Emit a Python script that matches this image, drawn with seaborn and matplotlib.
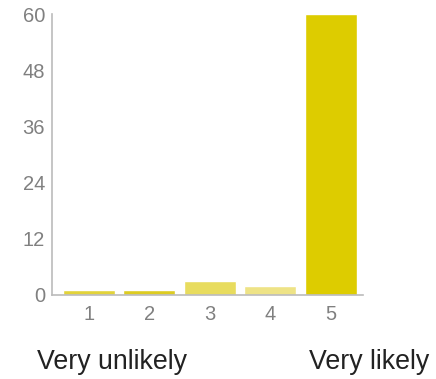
import matplotlib
matplotlib.use('Agg')
import matplotlib.pyplot as plt
import seaborn as sns
import pandas as pd

# 데이터
categories = ['1', '2', '3', '4', '5']
counts = [1, 1, 3, 2, 60]
bar_colors = ['#E2D33A', '#DDCC22', '#E8DC5E', '#EEE386', '#DDCC00']
y_ticks = [0, 12, 24, 36, 48, 60]

sns.set_style('white')
plt.rcParams['font.family'] = ['Liberation Sans', 'DejaVu Sans']

df = pd.DataFrame({'score': categories, 'count': counts})

fig = plt.figure(figsize=(4.36, 3.79), dpi=100)
ax = fig.add_axes([52 / 436, 1 - 295 / 379, (363 - 52) / 436, (295 - 14) / 379])

sns.barplot(data=df, x='score', y='count', hue='score', palette=bar_colors,
            legend=False, width=0.86, ax=ax, saturation=1)

ax.set_xlim(-0.61, 4.53)
ax.set_ylim(0, 60)
ax.set_yticks(y_ticks)
ax.set_xlabel('')
ax.set_ylabel('')

for side in ['top', 'right']:
    ax.spines[side].set_visible(False)
for side in ['left', 'bottom']:
    ax.spines[side].set_color('#BBBBBB')
    ax.spines[side].set_linewidth(1.2)

ax.tick_params(axis='both', colors='#BBBBBB', length=4, width=1,
               labelcolor='#808080', labelsize=14.5)
ax.tick_params(axis='x', pad=3)
ax.tick_params(axis='y', pad=1)

fig.text(37 / 436, 1 - 362 / 379, 'Very unlikely', fontsize=19.3, color='#222222',
         va='center', ha='left')
fig.text(429 / 436, 1 - 362 / 379, 'Very likely', fontsize=19.3, color='#222222',
         va='center', ha='right')

fig.savefig('out.png', dpi=100)
